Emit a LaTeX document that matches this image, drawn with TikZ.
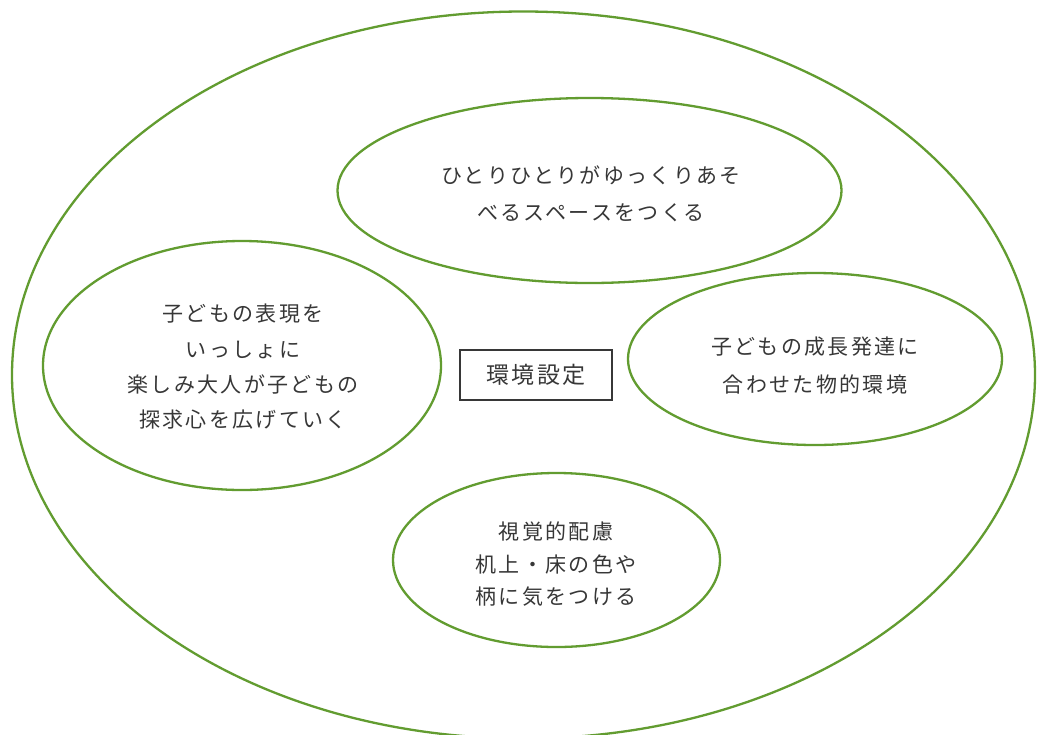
\documentclass[tikz,border=0pt]{standalone}
\usepackage{fontspec}
\newfontfamily\jp[LetterSpace=11]{Noto Sans CJK JP}
\usetikzlibrary{shapes.geometric}
\definecolor{leaf}{RGB}{98,156,48}
\definecolor{ink}{RGB}{55,55,55}
\begin{document}
\begin{tikzpicture}[x=1pt,y=-1pt,
  bubble/.style={ellipse, draw=leaf, line width=2.3pt, inner sep=0pt},
  txt/.style={text=ink, align=center, inner sep=0pt},
  lines/.style={font=\jp\fontsize{21}{#1}\selectfont}]
\useasboundingbox (0,0) rectangle (1046,734);
\clip (0,0) rectangle (1046,734);
\fill[white] (0,0) rectangle (1046,734);
% outer ellipse
\node[bubble, minimum width=1023pt, minimum height=727pt] (outer) at (523.5,375) {};
% inner ellipses
\node[bubble, minimum width=504pt, minimum height=185pt] (top) at (589.5,190.5) {};
\node[bubble, minimum width=398pt, minimum height=249pt] (left) at (242,365.5) {};
\node[bubble, minimum width=374pt, minimum height=172pt] (right) at (815,359) {};
\node[bubble, minimum width=327pt, minimum height=174pt] (bottom) at (556.5,560) {};
% texts
\node[txt, lines=37] (toptext) at (591,193.5) {ひとりひとりがゆっくりあそ\\べるスペースをつくる};
\node[txt, lines=35.3] (lefttext) at (243,367) {子どもの表現を\\いっしょに\\楽しみ大人が子どもの\\探求心を広げていく};
\node[txt, lines=38] (righttext) at (815,366) {子どもの成長発達に\\合わせた物的環境};
\node[txt, lines=32.5] (bottomtext) at (556,564.5) {視覚的配慮\\机上・床の色や\\柄に気をつける};
% centre box
\node[draw=ink, line width=1.3pt, minimum width=152pt, minimum height=50pt, inner sep=0pt,
  text=ink, font=\jp\fontsize{23}{26}\selectfont] (core) at (536,375) {環境設定};
\end{tikzpicture}
\end{document}
